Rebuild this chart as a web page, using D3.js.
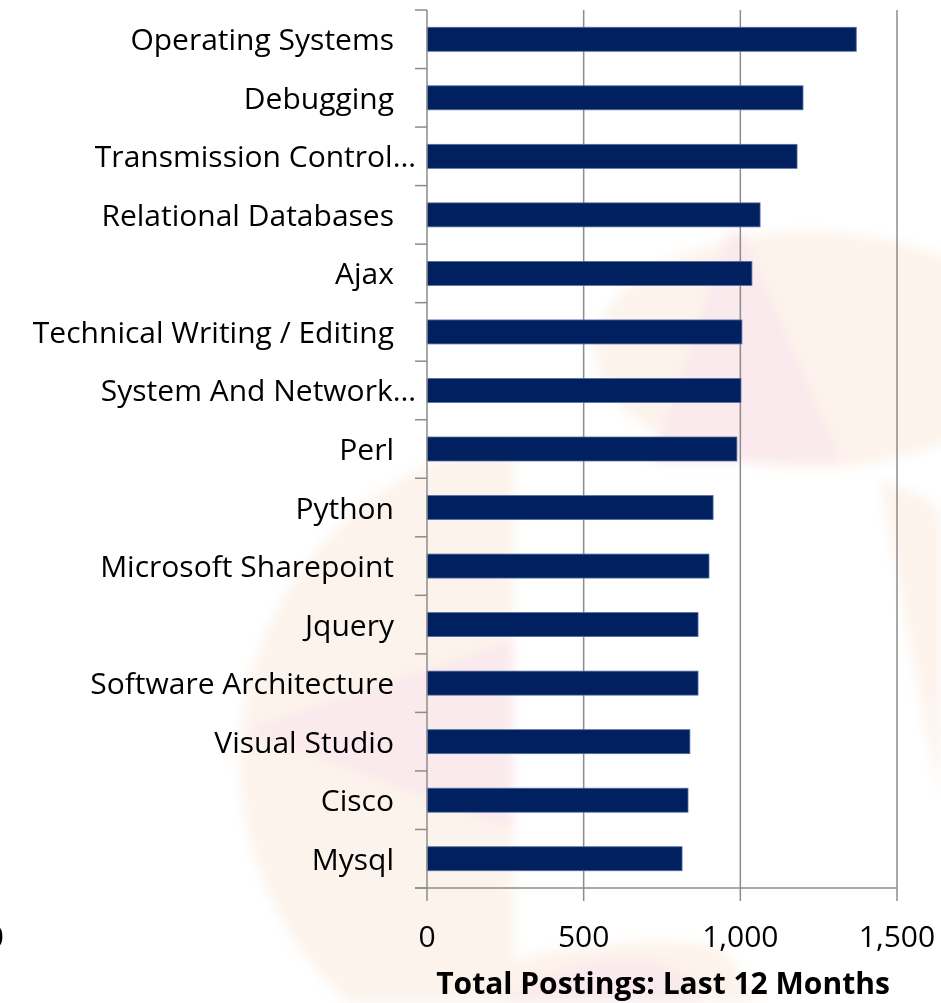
<!DOCTYPE html>
<html>
<head>
<meta charset="utf-8">
<script src="https://cdn.jsdelivr.net/npm/d3@7"></script>
<style>
  body { margin: 0; background: #fff; }
  svg { display: block; }
  text { font-family: "Open Sans", "Noto Sans", sans-serif; fill: #000; }
</style>
</head>
<body>
<svg id="chart" width="941" height="1003"></svg>
<script>
// categories, top to bottom
var skills = ["Operating Systems", "Debugging", "Transmission Control\u2026", "Relational Databases",
  "Ajax", "Technical Writing / Editing", "System And Network\u2026", "Perl", "Python",
  "Microsoft Sharepoint", "Jquery", "Software Architecture", "Visual Studio", "Cisco", "Mysql"];
// total postings, last 12 months
var postings = [1370, 1200, 1181, 1063, 1037, 1005, 1002, 989, 913, 900, 865, 865, 839, 833, 814];
var xTicks = [0, 500, 1000, 1500];
var xTitle = "Total Postings: Last 12 Months";

var svg = d3.select("#chart");
var W = 941, H = 1003;

// faint logo watermark behind the chart
svg.append("defs").append("filter").attr("id", "soft")
  .append("feGaussianBlur").attr("stdDeviation", 6);
svg.select("defs").append("clipPath").attr("id", "leftcut")
  .append("rect").attr("x", 0).attr("y", 0).attr("width", 513).attr("height", H);

var peach = "#fbebdf", pink = "#f7dbe1";
var wm = svg.append("g").attr("class", "watermark").attr("filter", "url(#soft)").attr("opacity", 0.6);
wm.append("ellipse").attr("cx", 810).attr("cy", 350).attr("rx", 215).attr("ry", 118).attr("fill", peach);
wm.append("circle").attr("cx", 565).attr("cy", 760).attr("r", 325).attr("fill", peach)
  .attr("clip-path", "url(#leftcut)");
wm.append("path").attr("d", "M 880 480 Q 941 500 941 520 L 941 800 Q 910 650 880 480 Z").attr("fill", peach);
wm.append("path").attr("d", "M 430 1003 Q 520 930 720 945 L 760 1003 Z").attr("fill", peach);
wm.append("path").attr("d", "M 728 232 L 742 232 L 842 462 L 652 462 Z").attr("fill", pink);
wm.append("path").attr("d", "M 245 730 L 513 640 L 513 830 Z").attr("fill", pink);
wm.append("path").attr("d", "M 500 1003 Q 560 955 650 960 Q 700 975 700 1003 Z").attr("fill", pink);

var margin = { top: 10, left: 427, right: 44, bottom: 115 };
var x = d3.scaleLinear().domain([0, 1500]).range([margin.left, W - margin.right]);
var y = d3.scaleBand().domain(skills).range([margin.top, H - margin.bottom])
  .paddingInner(0.59).paddingOuter(0.295);
var y0 = margin.top, y1 = H - margin.bottom;
var axisColor = "#8c8c8c";

// vertical gridlines
svg.append("g").selectAll("line").data(xTicks.slice(1)).enter().append("line")
  .attr("x1", function(d){ return x(d); }).attr("x2", function(d){ return x(d); })
  .attr("y1", y0).attr("y2", y1)
  .attr("stroke", axisColor).attr("stroke-width", 1.5);

// bars
svg.append("g").selectAll("rect").data(postings).enter().append("rect")
  .attr("x", x(0))
  .attr("y", function(d, i){ return y(skills[i]); })
  .attr("width", function(d){ return x(d) - x(0); })
  .attr("height", y.bandwidth())
  .attr("fill", "#00205f")
  .attr("stroke", "#5470a6").attr("stroke-width", 0.8);

// category axis: line plus ticks at band boundaries
var bounds = skills.map(function(s){ return y(s) - y.step() * y.paddingInner() / 2; });
bounds[0] = y0; bounds.push(y1);
svg.append("line").attr("x1", x(0)).attr("x2", x(0)).attr("y1", y0).attr("y2", y1)
  .attr("stroke", axisColor).attr("stroke-width", 1.5);
svg.append("g").selectAll("line").data(bounds).enter().append("line")
  .attr("x1", x(0) - 12).attr("x2", x(0))
  .attr("y1", function(d){ return d; }).attr("y2", function(d){ return d; })
  .attr("stroke", axisColor).attr("stroke-width", 1.5);

// category labels
svg.append("g").selectAll("text").data(skills).enter().append("text")
  .attr("x", function(d){ return d.slice(-1) === "\u2026" ? x(0) - 11 : x(0) - 33; })
  .attr("y", function(d){ return y(d) + y.bandwidth() / 2 + 11; })
  .attr("text-anchor", "end")
  .style("font-size", "30px")
  .text(function(d){ return d; });

// value axis
svg.append("line").attr("x1", x(0) - 12).attr("x2", x(1500)).attr("y1", y1).attr("y2", y1)
  .attr("stroke", axisColor).attr("stroke-width", 1.5);
svg.append("g").selectAll("line").data(xTicks).enter().append("line")
  .attr("x1", function(d){ return x(d); }).attr("x2", function(d){ return x(d); })
  .attr("y1", y1).attr("y2", y1 + 13)
  .attr("stroke", axisColor).attr("stroke-width", 1.5);
svg.append("g").selectAll("text").data(xTicks).enter().append("text")
  .attr("x", function(d){ return x(d); })
  .attr("y", 947)
  .attr("text-anchor", "middle")
  .style("font-size", "30px")
  .text(d3.format(","));

svg.append("text").attr("x", 663).attr("y", 994).attr("text-anchor", "middle")
  .style("font-size", "30px").style("font-weight", "bold")
  .text(xTitle);

// clipped digit at the far left edge
svg.append("text").attr("x", 4).attr("y", 947).attr("text-anchor", "end")
  .style("font-size", "30px").text("0");
</script>
</body>
</html>
